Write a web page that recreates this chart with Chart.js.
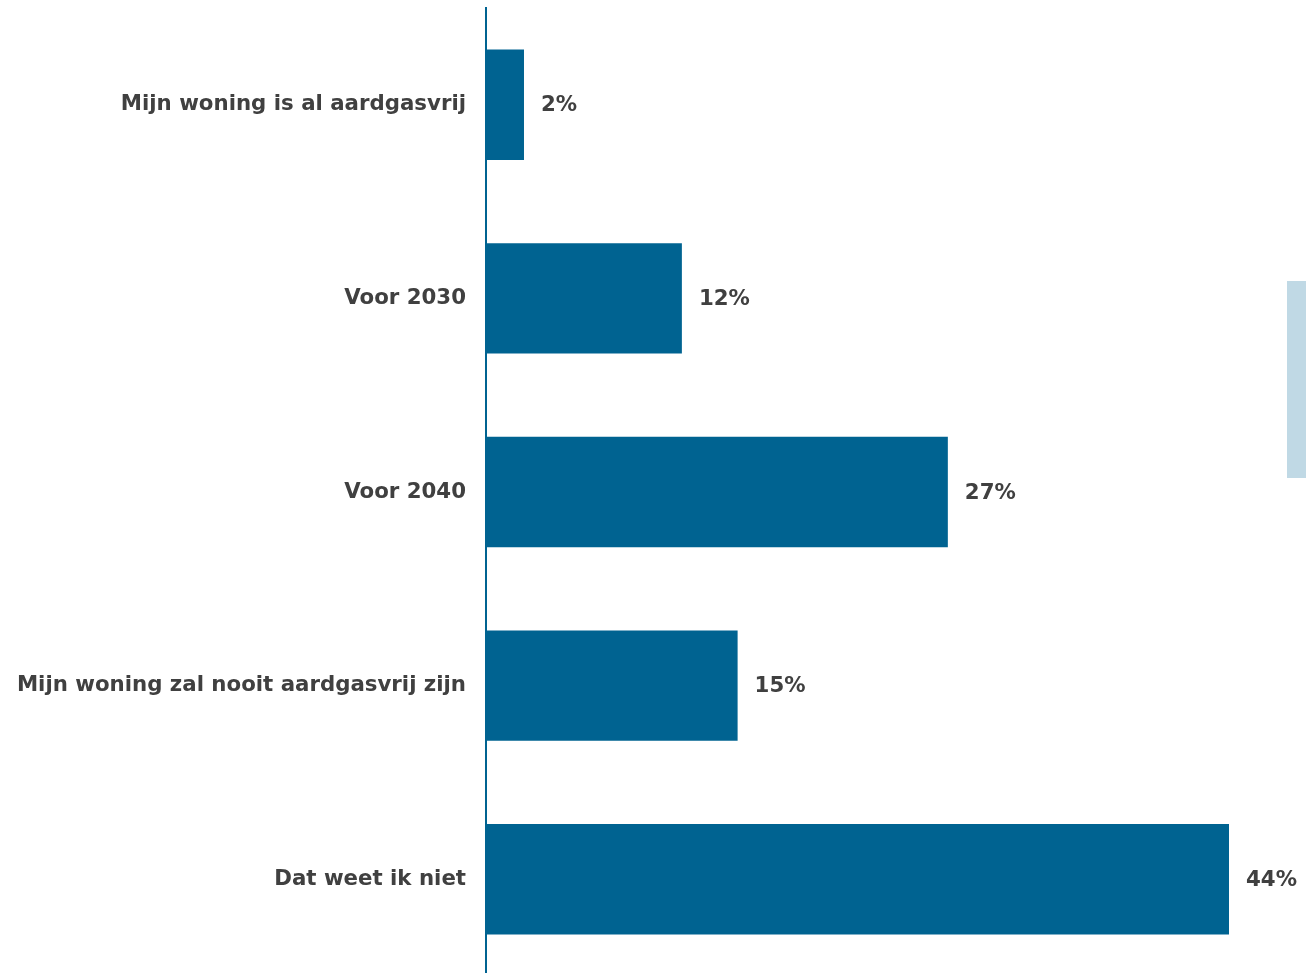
<!DOCTYPE html>
<html>
<head>
<meta charset="utf-8">
<script src="https://cdn.jsdelivr.net/npm/chart.js@4/dist/chart.umd.min.js"></script>
<style>
  html, body { margin: 0; padding: 0; background: #fff; overflow: hidden; }
  #wrap { position: relative; width: 1306px; height: 976px; }
  #scroll { position: absolute; right: 0; top: 281px; width: 19px; height: 197px; background: #c0d9e5; }
</style>
</head>
<body>
<div id="wrap">
  <canvas id="grafico"></canvas>
  <div id="scroll"></div>
</div>
<script>
const categorias = [
  'Mijn woning is al aardgasvrij',
  'Voor 2030',
  'Voor 2040',
  'Mijn woning zal nooit aardgasvrij zijn',
  'Dat weet ik niet'
];
const valores = [2.25, 11.6, 27.35, 14.9, 44];
const rotulos = ['2%', '12%', '27%', '15%', '44%'];

const corBarra = '#006391';
const corTexto = '#404040';
const familia = '"DejaVu Sans", Verdana, sans-serif';
const tamanho = 21.3;

// escreve o percentual no fim de cada barra
const rotulosPlugin = {
  id: 'rotulos',
  afterDatasetsDraw(chart) {
    const ctx = chart.ctx;
    const meta = chart.getDatasetMeta(0);
    ctx.save();
    ctx.font = 'bold ' + tamanho + 'px ' + familia;
    ctx.fillStyle = corTexto;
    ctx.textAlign = 'left';
    ctx.textBaseline = 'middle';
    meta.data.forEach((bar, i) => {
      ctx.fillText(rotulos[i], bar.x + 17, bar.y + 1);
    });
    ctx.restore();
  }
};

const ctx = document.getElementById('grafico').getContext('2d');
window.meuGrafico = new Chart(ctx, {
  type: 'bar',
  data: {
    labels: categorias,
    datasets: [{
      data: valores,
      backgroundColor: corBarra,
      borderWidth: 0,
      categoryPercentage: 0.57,
      barPercentage: 1
    }]
  },
  options: {
    indexAxis: 'y',
    responsive: true,
    maintainAspectRatio: false,
    animation: false,
    layout: { padding: { top: 8, right: 77, bottom: 0, left: 0 } },
    plugins: {
      legend: { display: false },
      tooltip: { enabled: false }
    },
    scales: {
      x: {
        display: false,
        min: 0,
        max: 44
      },
      y: {
        afterFit(scale) {
          scale.width = 486;
          scale.paddingTop = 0;    // o padding dos ticks não deve encolher a área
          scale.paddingBottom = 0;
        },
        grid: { display: false, drawTicks: false },
        border: { display: true, color: corBarra, width: 2 },
        ticks: {
          color: corTexto,
          padding: 20,
          font: { family: familia, size: tamanho, weight: 'bold' }
        }
      }
    }
  },
  plugins: [rotulosPlugin]
});
</script>
</body>
</html>
